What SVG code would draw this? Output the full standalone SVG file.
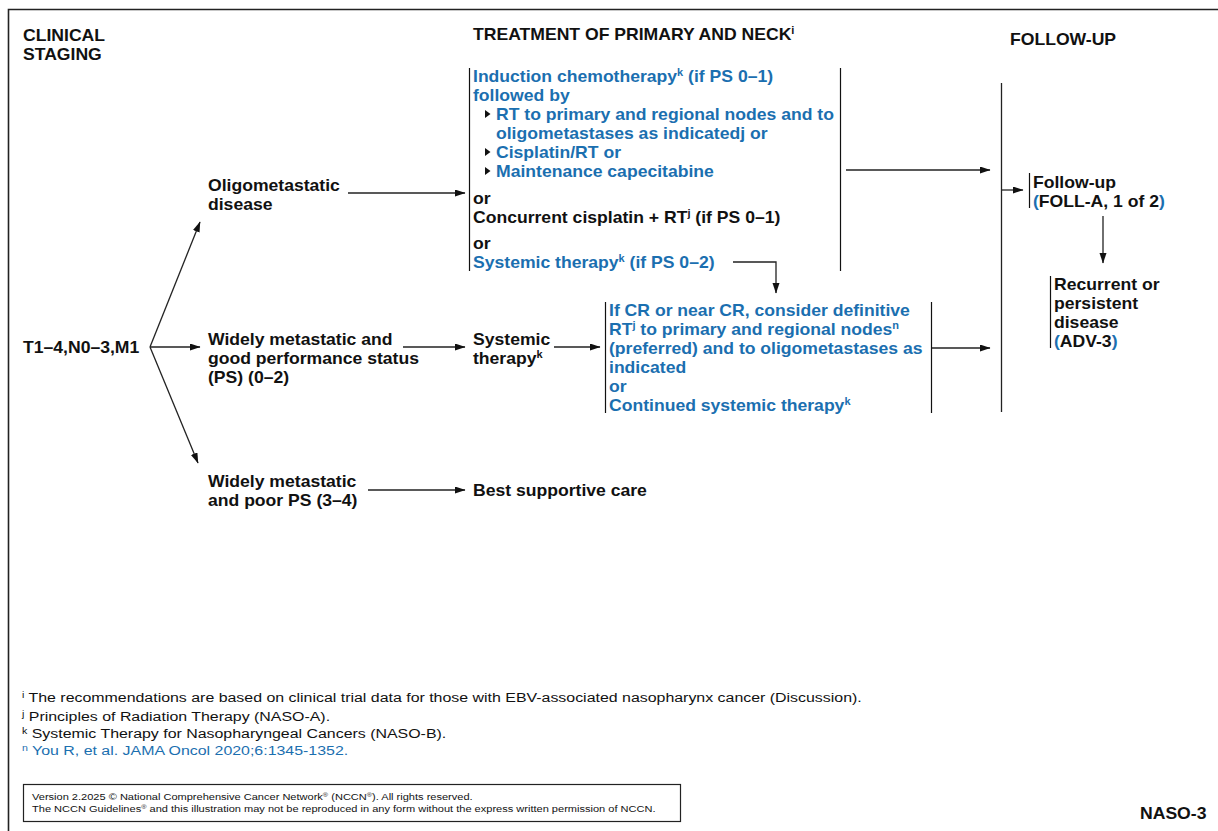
<svg xmlns="http://www.w3.org/2000/svg" width="1218" height="831" viewBox="0 0 1218 831">
<defs>
<marker id="ah" markerWidth="11" markerHeight="8" refX="10" refY="3.5" orient="auto" markerUnits="userSpaceOnUse">
<path d="M0,0 L10.5,3.5 L0,7 z" fill="#111"/>
</marker>
<style>
.b{font-family:"Liberation Sans",Arial,sans-serif;font-weight:bold;font-size:16px;fill:#111}
.r{font-family:"Liberation Sans",Arial,sans-serif;font-size:13.5px;fill:#111}
.s{font-family:"Liberation Sans",Arial,sans-serif;font-size:9.2px;fill:#111}
.bl{fill:#1b6fb0}
.sup{font-size:10px}
.fsup{font-size:9px}
.bar{stroke:#111;stroke-width:1.2;fill:none}
.c{stroke:#222;stroke-width:1.3;fill:none}
.ca{stroke:#222;stroke-width:1.3;fill:none;marker-end:url(#ah)}
.tri{fill:#111}
</style>
</defs>
<rect x="0" y="0" width="1218" height="831" fill="#fff"/>
<g id="frame">
<path d="M8.5,831 V9.5 H1218" stroke="#222" stroke-width="1.6" fill="none"/>
</g>

<g id="hdr-staging">
<text class="b" transform="translate(23 41) scale(1.1 1)"><tspan x="0">CLINICAL</tspan><tspan x="0" dy="19">STAGING</tspan></text>
</g>
<g id="hdr-treatment">
<text class="b" transform="translate(473 40) scale(1.1 1)">TREATMENT OF PRIMARY AND NECK<tspan class="sup" dy="-6">i</tspan></text>
</g>
<g id="hdr-followup">
<text class="b" transform="translate(1010 45) scale(1.1 1)">FOLLOW-UP</text>
</g>

<g id="node-staging">
<text class="b" transform="translate(23 353) scale(1.1 1)">T1–4,N0–3,M1</text>
</g>
<g id="node-oligo">
<text class="b" transform="translate(208 191) scale(1.1 1)"><tspan x="0">Oligometastatic</tspan><tspan x="0" dy="19">disease</tspan></text>
</g>
<g id="node-widely-good">
<text class="b" transform="translate(208 345) scale(1.1 1)"><tspan x="0">Widely metastatic and</tspan><tspan x="0" dy="19">good performance status</tspan><tspan x="0" dy="19">(PS) (0–2)</tspan></text>
</g>
<g id="node-widely-poor">
<text class="b" transform="translate(208 487) scale(1.1 1)"><tspan x="0">Widely metastatic</tspan><tspan x="0" dy="19">and poor PS (3–4)</tspan></text>
</g>

<g id="node-oligo-treatment">
<line class="bar" x1="469.5" y1="68" x2="469.5" y2="271"/>
<line class="bar" x1="840.5" y1="68" x2="840.5" y2="271"/>
<text class="b bl" transform="translate(473 82) scale(1.1 1)">Induction chemotherapy<tspan class="sup" dy="-6">k</tspan><tspan dy="6"> (if PS 0–1)</tspan></text>
<text class="b bl" transform="translate(473 101) scale(1.1 1)">followed by</text>
<polygon class="tri" points="485,110 485,118 490.5,114"/>
<text class="b bl" transform="translate(496 120) scale(1.1 1)"><tspan x="0">RT to primary and regional nodes and to</tspan><tspan x="0" dy="19">oligometastases as indicatedj or</tspan></text>
<polygon class="tri" points="485,148 485,156 490.5,152"/>
<text class="b bl" transform="translate(496 158) scale(1.1 1)">Cisplatin/RT or</text>
<polygon class="tri" points="485,167 485,175 490.5,171"/>
<text class="b bl" transform="translate(496 177) scale(1.1 1)">Maintenance capecitabine</text>
<text class="b" transform="translate(473 204) scale(1.1 1)">or</text>
<text class="b" transform="translate(473 223) scale(1.1 1)">Concurrent cisplatin + RT<tspan class="sup" dy="-6">j</tspan><tspan dy="6"> (if PS 0–1)</tspan></text>
<text class="b" transform="translate(473 249) scale(1.1 1)">or</text>
<text class="b bl" transform="translate(473 268) scale(1.1 1)">Systemic therapy<tspan class="sup" dy="-6">k</tspan><tspan dy="6"> (if PS 0–2)</tspan></text>
</g>

<g id="node-systemic">
<text class="b" transform="translate(473 345) scale(1.1 1)"><tspan x="0">Systemic</tspan><tspan x="0" dy="19">therapy</tspan><tspan class="sup" dy="-6">k</tspan></text>
</g>

<g id="node-cr">
<line class="bar" x1="605.5" y1="302" x2="605.5" y2="413"/>
<line class="bar" x1="931.5" y1="302" x2="931.5" y2="413"/>
<text class="b bl" transform="translate(609 316) scale(1.1 1)">If CR or near CR, consider definitive</text>
<text class="b bl" transform="translate(609 335) scale(1.1 1)">RT<tspan class="sup" dy="-6">j</tspan><tspan dy="6"> to primary and regional nodes</tspan><tspan class="sup" dy="-6">n</tspan></text>
<text class="b bl" transform="translate(609 354) scale(1.1 1)"><tspan x="0">(preferred) and to oligometastases as</tspan><tspan x="0" dy="19">indicated</tspan><tspan x="0" dy="19">or</tspan><tspan x="0" dy="19">Continued systemic therapy</tspan><tspan class="sup" dy="-6">k</tspan></text>
</g>

<g id="node-bsc">
<text class="b" transform="translate(473 496) scale(1.1 1)">Best supportive care</text>
</g>

<g id="node-followup">
<line class="bar" x1="1029.5" y1="173" x2="1029.5" y2="208"/>
<text class="b" transform="translate(1033 188) scale(1.1 1)"><tspan x="0">Follow-up</tspan><tspan x="0" dy="19"><tspan class="bl">(</tspan>FOLL-A, 1 of 2<tspan class="bl">)</tspan></tspan></text>
</g>

<g id="node-recurrent">
<line class="bar" x1="1050.5" y1="276" x2="1050.5" y2="348"/>
<text class="b" transform="translate(1054 290) scale(1.1 1)"><tspan x="0">Recurrent or</tspan><tspan x="0" dy="19">persistent</tspan><tspan x="0" dy="19">disease</tspan><tspan x="0" dy="19"><tspan class="bl">(</tspan>ADV-3<tspan class="bl">)</tspan></tspan></text>
</g>

<g id="connectors">
<line class="ca" x1="150" y1="347" x2="200" y2="222"/>
<line class="ca" x1="150" y1="347" x2="200" y2="347"/>
<line class="ca" x1="150" y1="347" x2="198" y2="463"/>
<line class="ca" x1="348" y1="193" x2="465" y2="193"/>
<line class="ca" x1="403" y1="347" x2="465" y2="347"/>
<line class="ca" x1="554" y1="347" x2="600" y2="347"/>
<line class="ca" x1="368" y1="490" x2="465" y2="490"/>
<path class="ca" d="M733,262 H776 V293"/>
<line class="ca" x1="846" y1="170" x2="990" y2="170"/>
<line class="ca" x1="932" y1="348" x2="990" y2="348"/>
<line class="c" x1="1001.5" y1="83" x2="1001.5" y2="412"/>
<line class="ca" x1="1001" y1="190" x2="1023" y2="190"/>
<line class="ca" x1="1103" y1="216" x2="1103" y2="263"/>
</g>

<g id="footnotes">
<text class="r" transform="translate(22 702) scale(1.18 1)"><tspan class="fsup" dy="-4">i</tspan><tspan dy="4"> The recommendations are based on clinical trial data for those with EBV-associated nasopharynx cancer (Discussion).</tspan></text>
<text class="r" transform="translate(22 721) scale(1.18 1)"><tspan class="fsup" dy="-4">j</tspan><tspan dy="4"> Principles of Radiation Therapy (NASO-A).</tspan></text>
<text class="r" transform="translate(22 738) scale(1.18 1)"><tspan class="fsup" dy="-4">k</tspan><tspan dy="4"> Systemic Therapy for Nasopharyngeal Cancers (NASO-B).</tspan></text>
<text class="r bl" transform="translate(22 755) scale(1.18 1)"><tspan class="fsup" dy="-4">n</tspan><tspan dy="4"> You R, et al. JAMA Oncol 2020;6:1345-1352.</tspan></text>
</g>

<g id="copyright">
<rect x="23.5" y="784.5" width="657" height="37" fill="none" stroke="#222" stroke-width="1.2"/>
<text class="s" transform="translate(32 800) scale(1.2 1)">Version 2.2025 © National Comprehensive Cancer Network<tspan font-size="6" dy="-3">®</tspan><tspan dy="3"> (NCCN</tspan><tspan font-size="6" dy="-3">®</tspan><tspan dy="3">). All rights reserved.</tspan></text>
<text class="s" transform="translate(32 812) scale(1.2 1)">The NCCN Guidelines<tspan font-size="6" dy="-3">®</tspan><tspan dy="3"> and this illustration may not be reproduced in any form without the express written permission of NCCN.</tspan></text>
</g>

<g id="page-id">
<text class="b" transform="translate(1140 819) scale(1.1 1)">NASO-3</text>
</g>
</svg>
